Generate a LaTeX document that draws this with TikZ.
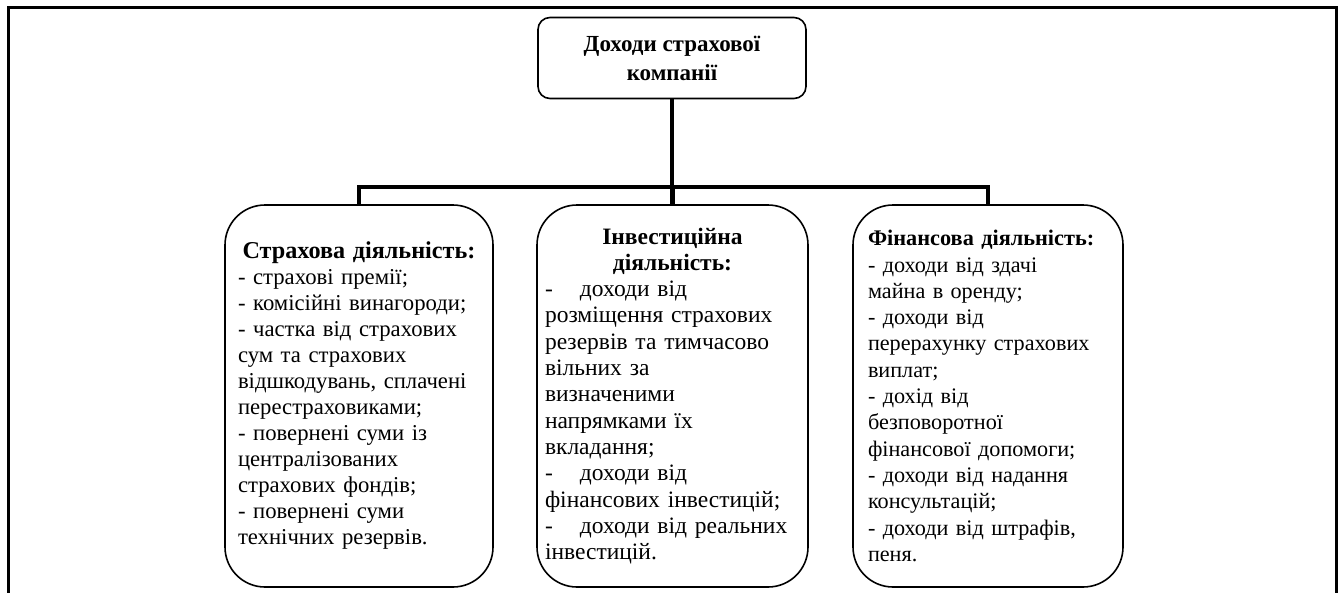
\documentclass[tikz,border=0pt]{standalone}
\usepackage{fontspec}
\setmainfont{Liberation Serif}
\begin{document}
\begin{tikzpicture}[x=1pt,y=-1pt,
  frame/.style={line width=3.2pt},
  conn/.style={line width=4.5pt, line join=miter},
  topbox/.style={draw, line width=1.6pt, rounded corners=12pt, minimum width=268pt, minimum height=81pt, inner sep=0pt, align=center, font=\fontsize{23}{29}\selectfont\bfseries},
  catbox/.style={draw, line width=1.6pt, rounded corners=40pt, minimum height=382pt, inner ysep=0pt}
]
\useasboundingbox (0,0) rectangle (1338,592);
\draw[frame] (8.5,600) -- (8.5,7.5) -- (1336.5,7.5) -- (1336.5,600);

\node[topbox] (T) at (672,58) {Доходи страхової\\компанії};

\node[catbox, inner xsep=13pt, text width=242pt, font=\fontsize{22.7}{26}\selectfont] (L) at (359,396) {%
\centering\mbox{\fontsize{24.2}{26}\selectfont\bfseries Страхова діяльність:}\par
\raggedright
\mbox{- страхові премії;}\\
\mbox{- комісійні винагороди;}\\
\mbox{- частка від страхових}\\
\mbox{сум та страхових}\\
\mbox{відшкодувань, сплачені}\\
\mbox{перестраховиками;}\\
\mbox{- повернені суми із}\\
\mbox{централізованих}\\
\mbox{страхових фондів;}\\
\mbox{- повернені суми}\\
\mbox{технічних резервів.}};

\node[catbox, inner xsep=8pt, text width=255pt, font=\fontsize{23.5}{26.3}\selectfont] (M) at (672.5,396) {%
\centering\mbox{\bfseries Інвестиційна}\\\mbox{\bfseries діяльність:}\par
\raggedright
\mbox{\makebox[35pt][l]{-}доходи від}\\
\mbox{розміщення страхових}\\
\mbox{резервів та тимчасово}\\
\mbox{вільних за}\\
\mbox{визначеними}\\
\mbox{напрямками їх}\\
\mbox{вкладання;}\\
\mbox{\makebox[35pt][l]{-}доходи від}\\
\mbox{фінансових інвестицій;}\\
\mbox{\makebox[35pt][l]{-}доходи від реальних}\\
\mbox{інвестицій.}};

\node[catbox, inner xsep=15pt, text width=240pt, font=\fontsize{22.2}{26.3}\selectfont] (R) at (988,396) {%
\raggedright
\mbox{\fontsize{22.3}{26.3}\selectfont\bfseries Фінансова діяльність:}\\
\mbox{- доходи від здачі}\\
\mbox{майна в оренду;}\\
\mbox{- доходи від}\\
\mbox{перерахунку страхових}\\
\mbox{виплат;}\\
\mbox{- дохід від}\\
\mbox{безповоротної}\\
\mbox{фінансової допомоги;}\\
\mbox{- доходи від надання}\\
\mbox{консультацій;}\\
\mbox{- доходи від штрафів,}\\
\mbox{пеня.}};

\coordinate (bar) at (672,187);
\draw[conn] (T.south) -- (T.south |- bar);
\draw[conn] (L.north) -- (L.north |- bar) -- (R.north |- bar) -- (R.north);
\draw[conn] (M.north) -- (M.north |- bar);
\end{tikzpicture}
\end{document}
